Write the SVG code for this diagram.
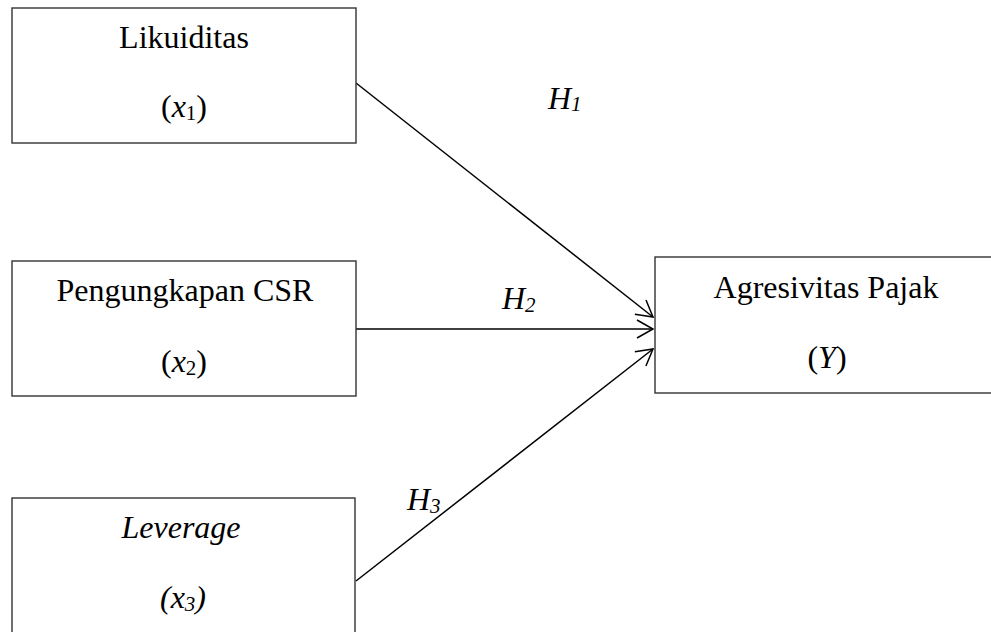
<svg xmlns="http://www.w3.org/2000/svg" width="991" height="632" viewBox="0 0 991 632">
<style>
.box{fill:#fff;stroke:#333;stroke-width:1.4}
text{font-family:'Liberation Serif','Times New Roman',Times,serif;font-size:32px;fill:#000}
.c{text-anchor:middle}
.i{font-style:italic}
.s{font-size:21px}
.ln{stroke:#000;stroke-width:1.5;fill:none;marker-end:url(#ah)}
</style>
<defs>
<marker id="ah" markerWidth="20" markerHeight="20" refX="18" refY="10" orient="auto" markerUnits="userSpaceOnUse">
<path d="M2,1 L18,10 L2,19" fill="none" stroke="#000" stroke-width="1.5"/>
</marker>
</defs>
<rect width="991" height="632" fill="#fff"/>
<g id="connectors">
<line class="ln" x1="356" y1="83" x2="653" y2="317"/>
<line class="ln" x1="356" y1="329" x2="653" y2="329"/>
<line class="ln" x1="356" y1="581" x2="653" y2="349"/>
<text class="i" x="548" y="109" font-family="Liberation Serif">H<tspan class="s" dy="2">1</tspan></text>
<text class="i" x="502" y="309" font-family="Liberation Serif">H<tspan class="s" dy="3">2</tspan></text>
<text class="i" x="407" y="510" font-family="Liberation Serif">H<tspan class="s" dy="3">3</tspan></text>
</g>
<g id="likuiditas">
<rect class="box" x="12" y="8" width="344" height="135"/>
<text class="c" x="184" y="48" font-family="Liberation Serif">Likuiditas</text>
<text class="c" x="184" y="117" font-family="Liberation Serif">(<tspan class="i">x</tspan><tspan class="s" dy="3">1</tspan><tspan dy="-3">)</tspan></text>
</g>
<g id="csr">
<rect class="box" x="12" y="261" width="344" height="135"/>
<text class="c" x="185" y="301" font-family="Liberation Serif">Pengungkapan CSR</text>
<text class="c" x="184" y="372" font-family="Liberation Serif">(<tspan class="i">x</tspan><tspan class="s" dy="3">2</tspan><tspan dy="-3">)</tspan></text>
</g>
<g id="leverage">
<rect class="box" x="12" y="498" width="343" height="150"/>
<text class="c i" x="181" y="538" font-family="Liberation Serif">Leverage</text>
<text class="c i" x="183" y="608" font-family="Liberation Serif">(x<tspan class="s" dy="3">3</tspan><tspan dy="-3">)</tspan></text>
</g>
<g id="agresivitas">
<rect class="box" x="655" y="257" width="345" height="136"/>
<text class="c" x="826" y="298" font-family="Liberation Serif">Agresivitas Pajak</text>
<text class="c" x="827" y="368" font-family="Liberation Serif">(<tspan class="i">Y</tspan>)</text>
</g>
</svg>
